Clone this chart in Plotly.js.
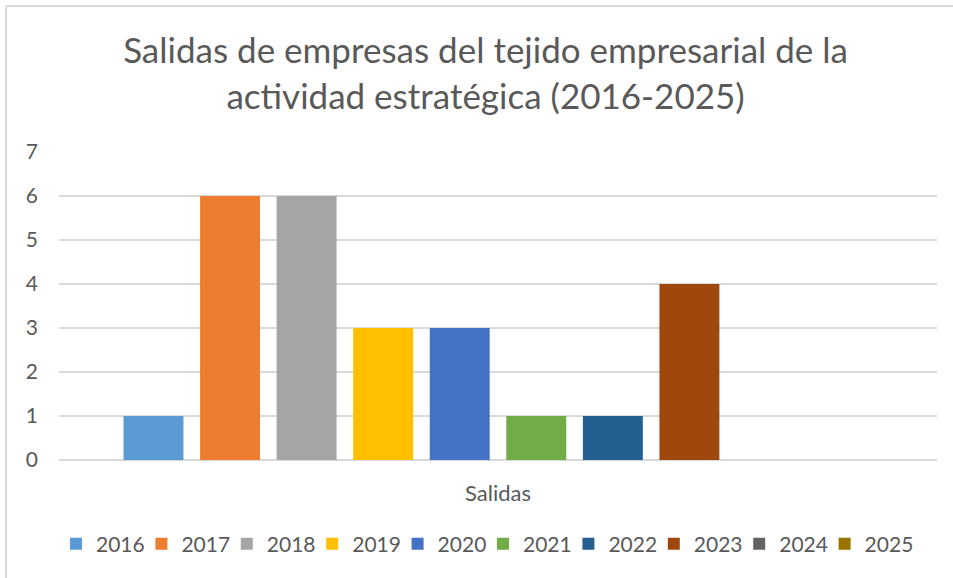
<!DOCTYPE html>
<html>
<head>
<meta charset="utf-8">
<script src="https://cdn.plot.ly/plotly-3.0.1.min.js"></script>
<style>
html,body{margin:0;padding:0;background:#fff;}
#chart{width:953px;height:578px;}
</style>
</head>
<body>
<div id="chart"></div>
<script>
const category = ["Salidas"];
const years = ["2016","2017","2018","2019","2020","2021","2022","2023","2024","2025"];
const values = [1, 6, 6, 3, 3, 1, 1, 4, 0, 0];
const colors = ["#5B9BD5","#ED7D31","#A5A5A5","#FFC000","#4472C4","#70AD47","#255E91","#9E480E","#636363","#997300"];
const yTicks = [0,1,2,3,4,5,6,7];

const W = 953, H = 578;
const L = 59, R = 16, T = 152, B = 118;
const pw = W - L - R, ph = H - T - B;

// legend entry layout (pixel left edge of each swatch, as in the reference)
const legendStart = 73, legendStep = 85.4, legendCenterY = 544, symbolOffset = 17;

const legendKey = i => (i === 0 ? "legend" : "legend" + (i + 1));

const traces = years.map((yr, i) => ({
  type: "bar",
  name: yr,
  x: category,
  y: [values[i]],
  marker: {color: colors[i]},
  legend: legendKey(i),
  hoverinfo: "name+y"
}));

const layout = {
  width: W, height: H,
  margin: {l: L, r: R, t: T, b: B, pad: 0, autoexpand: false},
  paper_bgcolor: "#fff", plot_bgcolor: "#fff",
  font: {family: "Lato, 'Open Sans', sans-serif", color: "#595959"},
  title: {
    text: "Salidas de empresas del tejido empresarial de la<br>actividad estratégica (2016-2025)",
    font: {size: 35, color: "#595959", family: "Lato, sans-serif"},
    x: 0.5095, xanchor: "center", xref: "container",
    y: 1 - 63/H, yanchor: "middle", yref: "container"
  },
  barmode: "group",
  bargap: 0.128,
  bargroupgap: 0.217,
  xaxis: {
    type: "category",
    showgrid: false, zeroline: false, showline: false,
    ticks: "", ticklabelstandoff: 18,
    tickfont: {size: 22, color: "#595959"}
  },
  yaxis: {
    range: [0, 7], tickvals: yTicks,
    showgrid: true, gridcolor: "#d9d9d9", gridwidth: 1.5,
    zeroline: true, zerolinecolor: "#d9d9d9", zerolinewidth: 1.5,
    showline: false, ticks: "", ticklabelstandoff: 20,
    tickfont: {size: 21, color: "#595959"}
  },
  shapes: [
    {type: "line", xref: "paper", yref: "paper",
     x0: (6 - L) / pw, x1: (6 - L) / pw, y0: -0.5, y1: 1 + (T - 6) / ph,
     line: {color: "#d9d9d9", width: 2}},
    {type: "line", xref: "paper", yref: "paper",
     x0: (6 - L) / pw, x1: 1.1, y0: 1 + (T - 6) / ph, y1: 1 + (T - 6) / ph,
     line: {color: "#d9d9d9", width: 2}}
  ],
  showlegend: true
};

years.forEach((yr, i) => {
  layout[legendKey(i)] = {
    orientation: "h",
    xref: "container", yref: "container",
    x: (legendStart + i * legendStep - symbolOffset) / W, xanchor: "left",
    y: 1 - legendCenterY / H, yanchor: "middle",
    font: {size: 21, color: "#595959"},
    bgcolor: "rgba(0,0,0,0)",
    itemwidth: 30
  };
});

Plotly.newPlot("chart", traces, layout, {displayModeBar: false, staticPlot: true});
</script>
</body>
</html>
